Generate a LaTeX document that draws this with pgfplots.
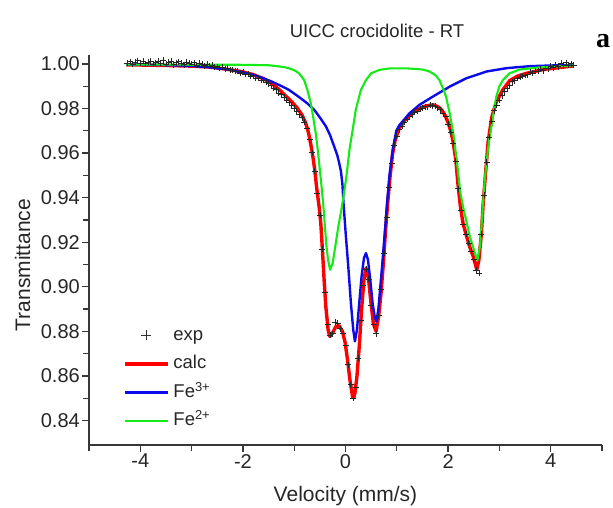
\documentclass[border=0pt]{standalone}
\usepackage{pgfplots}
\pgfplotsset{compat=1.18}
\usepackage{fontspec}
\setmainfont{Liberation Sans}
\newfontfamily\serifbold{Liberation Serif}
\definecolor{cred}{RGB}{255,0,0}
\definecolor{cblue}{RGB}{10,10,235}
\definecolor{cgreen}{RGB}{20,235,20}
\definecolor{axgray}{RGB}{55,55,55}
\begin{document}
\begin{tikzpicture}
\begin{axis}[
  scale only axis, width=513pt, height=390pt,
  xmin=-5, xmax=5, ymin=0.829, ymax=1.004,
  clip=false,
  axis lines=left,
  axis line style={-, line width=1.5pt, color=axgray},
  xtick={-4,-2,0,2,4}, minor xtick={-5,-3,-1,1,3,5},
  ytick={0.84,0.86,0.88,0.90,0.92,0.94,0.96,0.98,1.00},
  minor ytick={0.85,0.87,0.89,0.91,0.93,0.95,0.97,0.99},
  tick align=outside,
  major tick length=7pt, minor tick length=6pt,
  every tick/.style={line width=1.3pt, color=axgray},
  /pgf/number format/assume math mode=true,
  yticklabel style={/pgf/number format/.cd, fixed, fixed zerofill, precision=2, /tikz/.cd, inner sep=2pt},
  tick label style={font=\fontsize{20}{24}\selectfont, color=black!85},
  xticklabel style={inner sep=2pt},
  xlabel={Velocity (mm/s)}, ylabel={Transmittance},
  label style={font=\fontsize{21}{25}\selectfont, color=black!85},
  xlabel style={at={(axis description cs:0.5,-0.145)}, anchor=base},
  ylabel style={at={(axis description cs:-0.115,0.4615)}, anchor=base},
  legend style={at={(axis description cs:0.066,0.31)}, anchor=north west,
    draw=none, fill=none, inner sep=0pt, row sep=6.5pt,
    font=\fontsize{18.5}{22}\selectfont,
    nodes={inner sep=2pt, text height=14pt, text depth=4pt, text=black!85}},
  legend cell align=left,
  legend image code/.code={\draw[#1] (0pt,0pt) -- (43pt,0pt); \path (45pt,0pt);},
  line join=round,
]
\addlegendimage{legend image code/.code={\draw[black!80, line width=0.9pt] plot[only marks, mark=+, mark size=5pt] coordinates {(21.5pt,0pt)}; \path (0pt,0pt) (45pt,0pt);}}
\addlegendentry{exp}

\addplot[cred, line width=3.4pt] coordinates {
(-4.27,0.9995) (-4.0,0.9995) (-3.5,0.9993) (-3.0,0.9990) (-2.67,0.9986) (-2.4,0.9979) (-2.2,0.9972) (-2.0,0.9964) (-1.8,0.9952) (-1.6,0.9934) (-1.45,0.9914) (-1.36,0.9898) (-1.25,0.9876) (-1.15,0.9853) (-1.04,0.9828) (-0.95,0.9805) (-0.85,0.9772) (-0.775,0.9734) (-0.72,0.9690) (-0.68,0.9644) (-0.64,0.9590) (-0.60,0.9525) (-0.56,0.9440) (-0.515,0.9360) (-0.482,0.9286) (-0.450,0.9166) (-0.417,0.9031) (-0.384,0.8912) (-0.339,0.8807) (-0.306,0.8777) (-0.254,0.8792) (-0.189,0.8822) (-0.123,0.8825) (-0.059,0.8800) (-0.006,0.8748) (0.039,0.8673) (0.086,0.8583) (0.137,0.8508) (0.160,0.8502) (0.184,0.8523) (0.223,0.8598) (0.268,0.8732) (0.313,0.8897) (0.360,0.9031) (0.399,0.9084) (0.444,0.9046) (0.497,0.8927) (0.542,0.8837) (0.595,0.8800) (0.646,0.8867) (0.693,0.8972) (0.738,0.9106) (0.777,0.9241) (0.822,0.9375) (0.869,0.9495) (0.92,0.9600) (0.97,0.9660) (1.05,0.9712) (1.15,0.9745) (1.25,0.9768) (1.35,0.9787) (1.45,0.9800) (1.55,0.9810) (1.65,0.9815) (1.72,0.9816) (1.80,0.9808) (1.87,0.9795) (1.94,0.9770) (2.00,0.9737) (2.05,0.9700) (2.09,0.9660) (2.15,0.9570) (2.19,0.9465) (2.24,0.9360) (2.29,0.9286) (2.36,0.9226) (2.42,0.9180) (2.49,0.9136) (2.56,0.9076) (2.60,0.9120) (2.65,0.9240) (2.68,0.9360) (2.73,0.9510) (2.78,0.9650) (2.85,0.9760) (2.94,0.9830) (3.07,0.9885) (3.20,0.9925) (3.35,0.9945) (3.53,0.9958) (3.86,0.9975) (4.44,0.9991)
};
\addlegendentry{calc}

\addplot[cblue, line width=2.4pt] coordinates {
(-4.27,0.9997) (-3.5,0.9995) (-3.0,0.9991) (-2.6,0.9984) (-2.28,0.9974) (-2.0,0.9962) (-1.8,0.9951) (-1.62,0.9937) (-1.45,0.9922) (-1.30,0.9906) (-1.20,0.9895) (-1.10,0.9883) (-0.97,0.9862) (-0.84,0.9840) (-0.74,0.9822) (-0.61,0.9794) (-0.50,0.9760) (-0.38,0.9719) (-0.30,0.9680) (-0.22,0.9629) (-0.16,0.9590) (-0.123,0.9555) (-0.09,0.9520) (-0.06,0.9460) (-0.039,0.9375) (0.008,0.9226) (0.059,0.9076) (0.105,0.8927) (0.151,0.8807) (0.184,0.8755) (0.223,0.8807) (0.268,0.8927) (0.313,0.9046) (0.360,0.9129) (0.399,0.9151) (0.438,0.9121) (0.483,0.9031) (0.528,0.8927) (0.568,0.8867) (0.601,0.8844) (0.640,0.8897) (0.679,0.9001) (0.724,0.9121) (0.771,0.9256) (0.810,0.9375) (0.855,0.9495) (0.92,0.9614) (0.99,0.9700) (1.05,0.9725) (1.15,0.9752) (1.25,0.9779) (1.44,0.9816) (1.70,0.9853) (2.03,0.9898) (2.36,0.9936) (2.75,0.9966) (3.14,0.9981) (3.6,0.9990) (4.44,0.9996)
};
\addlegendentry{Fe\textsuperscript{3+}}

\addplot[cgreen, line width=2.1pt] coordinates {
(-4.27,0.9997) (-2.0,0.9996) (-1.5,0.9994) (-1.2,0.9986) (-1.10,0.9980) (-1.0,0.9972) (-0.906,0.9958) (-0.808,0.9928) (-0.743,0.9883) (-0.677,0.9824) (-0.632,0.9764) (-0.58,0.9689) (-0.534,0.9600) (-0.48,0.9480) (-0.45,0.9410) (-0.42,0.9330) (-0.395,0.9250) (-0.37,0.9180) (-0.34,0.9120) (-0.30,0.9076) (-0.25,0.9106) (-0.20,0.9180) (-0.14,0.9270) (-0.07,0.9360) (-0.02,0.9435) (0.02,0.9500) (0.05,0.9560) (0.08,0.9620) (0.137,0.9700) (0.20,0.9794) (0.30,0.9883) (0.40,0.9928) (0.50,0.9958) (0.66,0.9973) (0.86,0.9980) (1.20,0.9980) (1.50,0.9975) (1.64,0.9966) (1.75,0.9950) (1.83,0.9928) (1.90,0.9890) (1.96,0.9853) (2.03,0.9780) (2.10,0.9690) (2.15,0.9600) (2.19,0.9525) (2.24,0.9420) (2.30,0.9350) (2.36,0.9290) (2.43,0.9220) (2.49,0.9176) (2.57,0.9117) (2.62,0.9180) (2.65,0.9270) (2.68,0.9370) (2.71,0.9465) (2.74,0.9540) (2.80,0.9660) (2.85,0.9725) (2.90,0.9800) (2.94,0.9853) (3.00,0.9900) (3.07,0.9928) (3.20,0.9958) (3.40,0.9975) (3.80,0.9985) (4.44,0.9993)
};
\addlegendentry{Fe\textsuperscript{2+}}

\addplot[only marks, mark=+, mark size=3pt, black!85, mark options={line width=0.7pt}, forget plot] coordinates {
(-4.25,1.0003) (-4.20,1.0010) (-4.15,0.9998) (-4.10,1.0008) (-4.05,1.0015) (-4.00,1.0004) (-3.95,1.0011) (-3.90,1.0001) (-3.85,1.0009) (-3.80,1.0013) (-3.75,0.9999) (-3.70,1.0006) (-3.65,1.0012) (-3.60,1.0003) (-3.55,1.0017) (-3.50,1.0000) (-3.45,1.0008) (-3.40,1.0011) (-3.35,0.9997) (-3.30,1.0006) (-3.25,1.0010) (-3.20,1.0002) (-3.15,0.9996) (-3.10,1.0007) (-3.05,1.0004) (-3.00,0.9998) (-2.95,1.0006) (-2.90,0.9994) (-2.85,1.0003) (-2.80,1.0000) (-2.75,0.9992) (-2.70,0.9999) (-2.65,0.9989) (-2.60,0.9993) (-2.55,0.9986) (-2.50,0.9988) (-2.45,0.9983) (-2.40,0.9985) (-2.35,0.9976) (-2.30,0.9980) (-2.25,0.9971) (-2.20,0.9973) (-2.15,0.9966) (-2.10,0.9968) (-2.05,0.9959) (-2.00,0.9962) (-1.95,0.9955) (-1.90,0.9953) (-1.85,0.9944) (-1.80,0.9948) (-1.75,0.9937) (-1.70,0.9935) (-1.65,0.9928) (-1.60,0.9926) (-1.55,0.9917) (-1.50,0.9911) (-1.45,0.9905) (-1.40,0.9890) (-1.35,0.9884) (-1.30,0.9870) (-1.25,0.9863) (-1.20,0.9850) (-1.15,0.9838) (-1.10,0.9826) (-1.05,0.9812) (-1.00,0.9800) (-0.95,0.9788) (-0.90,0.9772) (-0.85,0.9758) (-0.80,0.9740) (-0.75,0.9712) (-0.70,0.9660) (-0.65,0.9602) (-0.60,0.9520) (-0.55,0.9420) (-0.50,0.9320) (-0.45,0.9170) (-0.40,0.8975) (-0.35,0.8830) (-0.30,0.8782) (-0.25,0.8790) (-0.20,0.8840) (-0.15,0.8838) (-0.10,0.8812) (-0.05,0.8790) (0.00,0.8738) (0.05,0.8650) (0.10,0.8560) (0.15,0.8500) (0.20,0.8550) (0.25,0.8680) (0.30,0.8850) (0.35,0.9005) (0.40,0.9080) (0.45,0.9035) (0.50,0.8915) (0.55,0.8830) (0.60,0.8790) (0.65,0.8870) (0.70,0.8990) (0.75,0.9150) (0.80,0.9310) (0.85,0.9445) (0.90,0.9555) (0.95,0.9635) (1.00,0.9675) (1.05,0.9705) (1.10,0.9722) (1.15,0.9740) (1.20,0.9752) (1.25,0.9766) (1.30,0.9772) (1.35,0.9783) (1.40,0.9788) (1.45,0.9798) (1.50,0.9801) (1.55,0.9808) (1.60,0.9808) (1.65,0.9815) (1.70,0.9812) (1.75,0.9810) (1.80,0.9803) (1.85,0.9795) (1.90,0.9778) (1.95,0.9763) (2.00,0.9730) (2.05,0.9695) (2.10,0.9645) (2.15,0.9565) (2.20,0.9440) (2.25,0.9345) (2.30,0.9280) (2.35,0.9235) (2.40,0.9195) (2.45,0.9160) (2.50,0.9125) (2.55,0.9075) (2.60,0.9060) (2.65,0.9235) (2.70,0.9410) (2.75,0.9560) (2.80,0.9670) (2.85,0.9742) (2.90,0.9790) (2.95,0.9815) (3.00,0.9838) (3.05,0.9858) (3.10,0.9875) (3.15,0.9890) (3.20,0.9903) (3.25,0.9920) (3.30,0.9925) (3.35,0.9936) (3.40,0.9940) (3.45,0.9945) (3.50,0.9950) (3.55,0.9952) (3.60,0.9962) (3.65,0.9958) (3.70,0.9968) (3.75,0.9966) (3.80,0.9975) (3.85,0.9970) (3.90,0.9982) (3.95,0.9978) (4.00,0.9990) (4.05,0.9983) (4.10,0.9995) (4.15,0.9988) (4.20,1.0002) (4.25,0.9992) (4.30,1.0005) (4.35,0.9995) (4.40,1.0001) (4.45,0.9993)
};

\node[anchor=base, font=\fontsize{18.5}{22}\selectfont, text=black!85] at (axis description cs:0.5614,1.046) {UICC crocidolite - RT};
\node[anchor=base, font=\serifbold\bfseries\fontsize{28}{32}\selectfont] at (axis description cs:1.002,1.018) {a};
\end{axis}
\pgfresetboundingbox
\path[use as bounding box] (-89pt,-62pt) rectangle (524pt,445pt);
\end{tikzpicture}
\end{document}
